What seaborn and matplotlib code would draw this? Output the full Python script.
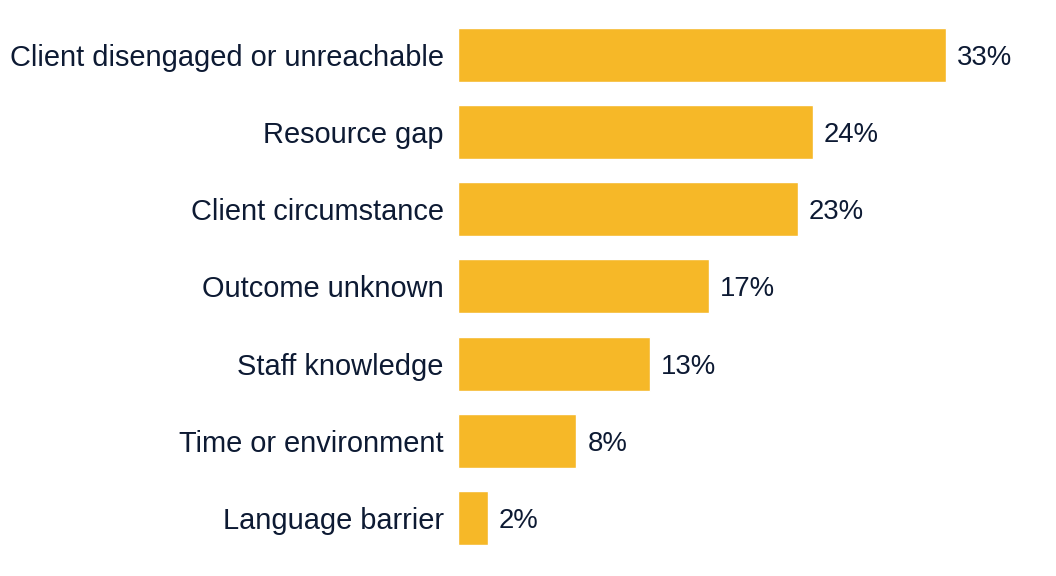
import pandas as pd
import matplotlib.pyplot as plt
import seaborn as sns

categories = ['Client disengaged or unreachable', 'Resource gap', 'Client circumstance',
              'Outcome unknown', 'Staff knowledge', 'Time or environment', 'Language barrier']
values = [33, 24, 23, 17, 13, 8, 2]

df = pd.DataFrame({'reason': categories, 'pct': values})

sns.set_theme(style='white')
plt.rcParams['font.family'] = ['Liberation Sans', 'DejaVu Sans']

text_color = '#0d1a33'
bar_color = '#f6b828'

fig = plt.figure(figsize=(10.56, 5.76), dpi=100)
ax = fig.add_axes([0.4338, 0.0339, 0.5596, 0.9375])

sns.barplot(data=df, y='reason', x='pct', color=bar_color, width=0.70,
            saturation=1, ax=ax)

for i, v in enumerate(values):
    ax.text(v + 0.75, i, f'{v}%', va='center_baseline', ha='left', fontsize=19.8,
            color=text_color)

ax.set_xlim(0, 40)
ax.set_ylim(6.5, -0.5)
ax.set_xlabel('')
ax.set_ylabel('')
ax.set_xticks([])
ax.tick_params(axis='y', length=0, pad=10.5, labelsize=20.9, labelcolor=text_color)
sns.despine(ax=ax, left=True, bottom=True)

fig.savefig('out.png', dpi=100)
